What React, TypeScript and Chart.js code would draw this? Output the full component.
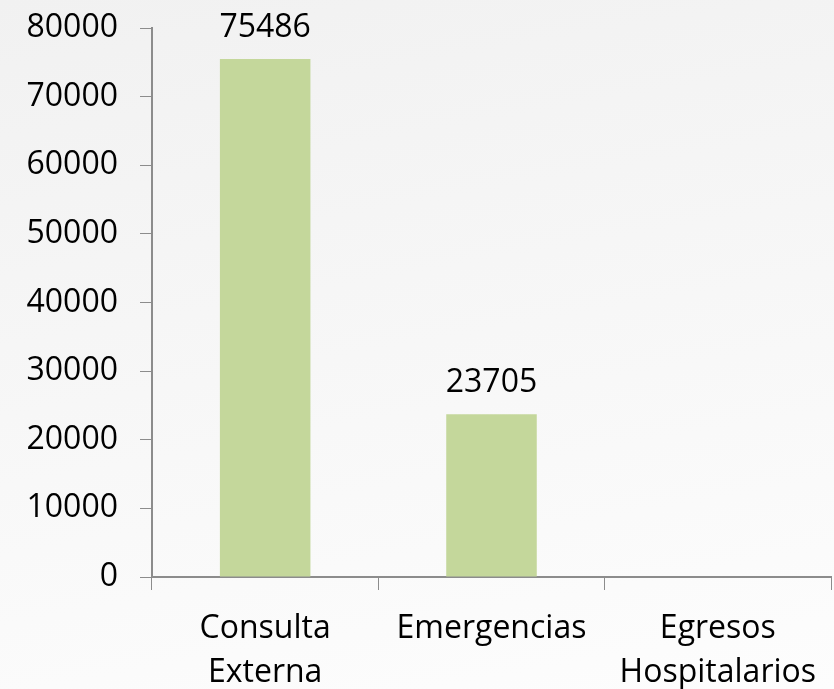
import React, { useEffect, useRef } from "react";
import { Chart, registerables } from "chart.js";

Chart.register(...registerables);

const categories: string[][] = [["Consulta", "Externa"], ["Emergencias"], ["Egresos", "Hospitalarios"]];
const values: (number | null)[] = [75486, 23705, null];
const yTicks: number[] = [0, 10000, 20000, 30000, 40000, 50000, 60000, 70000, 80000];

const FONT = "'Open Sans', 'Noto Sans', sans-serif";

const valueLabels = {
  id: "valueLabels",
  afterDatasetsDraw(chart: any) {
    const ctx = chart.ctx;
    const meta = chart.getDatasetMeta(0);
    ctx.save();
    ctx.font = `32px ${FONT}`;
    ctx.fillStyle = "#000";
    ctx.textAlign = "center";
    ctx.textBaseline = "alphabetic";
    meta.data.forEach((el: any, i: number) => {
      const v = values[i];
      if (v === null || v === undefined) return;
      ctx.fillText(String(v), el.x, el.y - 22);
    });
    ctx.restore();
  },
};

export default function App() {
  const ref = useRef<HTMLCanvasElement | null>(null);
  useEffect(() => {
    document.body.style.margin = "0";
    const chart = new Chart(ref.current!, {
      type: "bar",
      data: {
        labels: categories,
        datasets: [
          {
            data: values,
            backgroundColor: "#c4d79b",
            barPercentage: 0.4,
            categoryPercentage: 1,
          },
        ],
      },
      options: {
        animation: false,
        responsive: false,
        maintainAspectRatio: false,
        layout: { padding: { top: 28, right: 3, left: 0, bottom: 0 } },
        plugins: { legend: { display: false }, tooltip: { enabled: false } },
        scales: {
          x: {
            grid: { display: true, drawOnChartArea: false, tickLength: 13, color: "#8c8c8c", offset: true },
            border: { color: "#8c8c8c", width: 2 },
            ticks: { color: "#000", font: { family: FONT, size: 32, lineHeight: 1.4 }, padding: 16, maxRotation: 0 },
            afterFit: (s: any) => { s.height = 112; s.paddingLeft = 0; s.paddingRight = 0; },
          },
          y: {
            min: 0,
            max: 80000,
            afterBuildTicks: (s: any) => { s.ticks = yTicks.map((v) => ({ value: v })); },
            grid: { display: true, drawOnChartArea: false, tickLength: 12, color: "#8c8c8c" },
            border: { color: "#8c8c8c", width: 2 },
            ticks: { color: "#000", font: { family: FONT, size: 32 }, padding: 22, callback: (v: any) => String(v) },
            afterFit: (s: any) => { s.width = 152; s.paddingTop = 0; s.paddingBottom = 0; },
          },
        },
      },
      plugins: [valueLabels],
    });
    return () => chart.destroy();
  }, []);
  return (
    <div
      style={{
        position: "fixed",
        left: 0,
        top: 0,
        width: 834,
        height: 689,
        background: "linear-gradient(170deg, #f1f1f1 0%, #f7f7f7 50%, #fdfdfd 100%)",
      }}
    >
      <canvas ref={ref} width={834} height={689} style={{ width: 834, height: 689 }} />
    </div>
  );
}
